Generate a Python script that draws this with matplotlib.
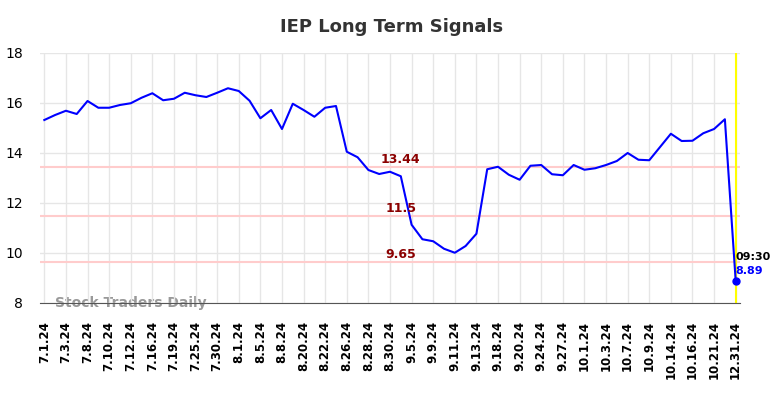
import matplotlib
matplotlib.use("Agg")
import matplotlib.pyplot as plt

prices = [15.32, 15.52, 15.69, 15.56, 16.08, 15.81, 15.81, 15.92, 15.99, 16.21,
          16.39, 16.11, 16.17, 16.41, 16.31, 16.24, 16.41, 16.59, 16.48, 16.09,
          15.39, 15.72, 14.96, 15.97, 15.72, 15.45, 15.81, 15.88, 14.05, 13.83,
          13.32, 13.16, 13.25, 13.07, 11.13, 10.55, 10.47, 10.17, 10.01, 10.28,
          10.77, 13.35, 13.45, 13.13, 12.93, 13.49, 13.52, 13.15, 13.11, 13.52,
          13.33, 13.39, 13.52, 13.68, 14.00, 13.73, 13.71, 14.24, 14.77, 14.48,
          14.49, 14.79, 14.96, 15.35, 8.89]
tick_labels = ["7.1.24", "7.3.24", "7.8.24", "7.10.24", "7.12.24", "7.16.24", "7.19.24",
               "7.25.24", "7.30.24", "8.1.24", "8.5.24", "8.8.24", "8.20.24", "8.22.24",
               "8.26.24", "8.28.24", "8.30.24", "9.5.24", "9.9.24", "9.11.24", "9.13.24",
               "9.18.24", "9.20.24", "9.24.24", "9.27.24", "10.1.24", "10.3.24", "10.7.24",
               "10.9.24", "10.14.24", "10.16.24", "10.21.24", "12.31.24"]
levels = [13.44, 11.5, 9.65]
last_time = "09:30"

fig = plt.figure(figsize=(7.84, 3.98), dpi=100)
ax = fig.add_axes([40/784, 1 - 303/398, 700/784, 250/398])

x = list(range(len(prices)))
for lv in levels:
    ax.axhline(lv, color="#ffcccc", lw=1.5, zorder=1)
    ax.text(33, lv + 0.3, str(lv), color="#8b0000", fontsize=9, fontweight="bold",
            ha="center", va="center", zorder=3)

ax.axvline(x[-1], color="yellow", lw=1.5, zorder=1)
ax.plot(x, prices, color="blue", lw=1.5, zorder=2)
ax.plot(x[-1], prices[-1], "o", color="blue", ms=5, zorder=4)
ax.text(x[-1], prices[-1] + 0.95, last_time, fontsize=8, fontweight="bold",
        color="black", ha="left", va="center")
ax.text(x[-1], prices[-1] + 0.4, f"{prices[-1]:.2f}", fontsize=8, fontweight="bold",
        color="blue", ha="left", va="center")

ax.text(1, 8.02, "Stock Traders Daily", fontsize=10, fontweight="bold",
        color="#999999", ha="left", va="center", zorder=0)

ax.set_xlim(-0.4, len(prices) - 0.6)
ax.set_ylim(8, 18)
ax.set_yticks([8, 10, 12, 14, 16, 18])
ax.set_xticks(list(range(0, len(prices), 2)))
ax.set_xticklabels(tick_labels, rotation=90, fontsize=8.5, fontweight="bold")
ax.tick_params(axis="x", length=0, pad=13)
ax.tick_params(axis="y", length=0, pad=12, labelsize=10)
ax.grid(color="#e6e6e6", lw=1)
ax.set_axisbelow(True)
for s in ["top", "right", "left"]:
    ax.spines[s].set_visible(False)
ax.spines["bottom"].set_color("#555555")

fig.suptitle("IEP Long Term Signals", fontsize=13, fontweight="bold", color="#333333", y=0.955)
fig.savefig("out.png", dpi=100)
